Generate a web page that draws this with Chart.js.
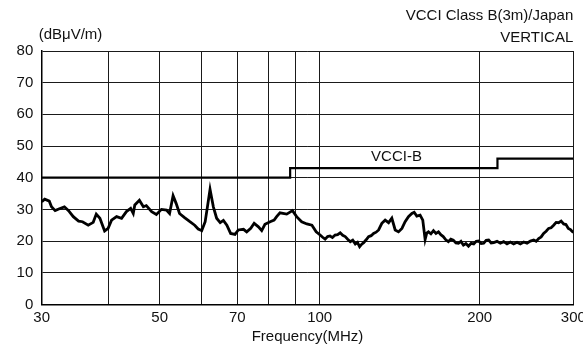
<!DOCTYPE html>
<html>
<head>
<meta charset="utf-8">
<script src="https://cdn.jsdelivr.net/npm/chart.js@4/dist/chart.umd.min.js"></script>
<style>
  html, body { margin: 0; padding: 0; background: #fff; }
</style>
</head>
<body>
<canvas id="emi" width="583" height="347"></canvas>
<script>
// measured field strength, frequency in MHz / level in dBuV/m
const traceFreqs = [
  30.0, 30.1, 30.4, 31.0, 31.3, 31.8, 32.3, 33.1, 33.7, 34.4,
  35.2, 35.8, 36.7, 37.5, 38.0, 38.6, 39.4, 40.0, 40.6, 41.5,
  42.4, 43.3, 44.1, 44.6, 44.9, 45.8, 46.6, 47.2, 48.3, 49.3,
  50.4, 51.5, 52.2, 53.0, 53.7, 54.5, 55.7, 57.0, 58.2, 59.1,
  60.0, 60.9, 61.5, 62.2, 63.1, 64.0, 65.0, 65.9, 66.9, 68.0,
  69.3, 70.3, 71.9, 72.9, 74.2, 75.3, 76.7, 77.8, 78.9, 80.7,
  82.1, 83.0, 84.2, 86.7, 88.9, 90.5, 92.5, 94.6, 96.7, 98.5,
  100.2, 101.3, 102.4, 103.5, 104.6, 105.7, 106.9, 108.1, 109.3, 110.5,
  111.7, 112.9, 114.2, 115.4, 116.7, 117.8, 118.9, 120.0, 121.0, 122.3,
  123.6, 125.0, 126.3, 127.7, 129.1, 130.9, 132.8, 134.8, 136.7, 138.7,
  140.7, 142.8, 144.8, 146.9, 149.1, 150.6, 152.3, 154.5, 156.3,
  157.9, 159.0, 160.2, 161.9, 163.7, 165.5, 167.3, 169.0, 170.8, 172.7,
  174.6, 176.5, 178.4, 180.4, 182.4, 184.4, 186.4, 188.4, 190.5, 192.7,
  194.9, 197.0, 199.1, 201.3, 203.5, 205.7, 207.9, 210.2, 212.5, 215.6,
  218.7, 221.9, 225.1, 228.4, 231.7, 235.1, 238.5, 242.0, 245.5, 249.1,
  252.7, 255.4, 258.2, 261.0, 263.8, 266.7, 269.6, 272.5, 275.5, 278.5,
  281.5, 284.6, 287.7, 290.6, 293.6, 296.4, 299.2, 300.0
];
const traceLevels = [
  32.4, 32.6, 33.2, 32.6, 30.8, 29.6, 30.1, 30.8, 29.6, 27.7,
  26.3, 26.1, 25.0, 25.9, 28.5, 27.2, 23.2, 24.0, 26.6, 27.7,
  27.2, 29.3, 30.3, 28.7, 31.4, 32.9, 30.8, 31.2, 29.3, 28.4,
  30.0, 29.8, 28.7, 34.3, 31.9, 28.7, 27.4, 26.1, 25.0, 23.8,
  23.3, 26.1, 30.8, 36.3, 30.8, 27.2, 25.8, 26.5, 25.0, 22.4,
  22.1, 23.5, 23.7, 22.9, 24.0, 25.6, 24.5, 23.3, 25.3, 26.1,
  26.6, 27.7, 28.9, 28.5, 29.6, 27.7, 26.1, 25.4, 25.0, 22.9,
  21.9, 21.2, 20.6, 21.4, 21.6, 21.1, 21.9, 22.0, 22.6, 21.8,
  21.4, 20.6, 19.8, 20.3, 19.1, 19.6, 18.2, 19.0, 19.5, 20.4,
  21.4, 21.7, 22.4, 22.8, 23.5, 25.6, 26.6, 25.8, 27.2, 23.5,
  22.9, 24.0, 26.1, 27.7, 28.7, 29.1, 27.9, 28.2, 26.6,
  20.5, 22.5, 22.9, 22.3, 23.3, 22.4, 22.9, 22.0, 21.4, 20.4,
  19.8, 20.6, 20.3, 19.4, 19.3, 19.9, 18.7, 19.2, 18.4, 19.3,
  19.1, 19.9, 20.0, 19.2, 19.3, 20.2, 20.3, 19.4, 19.5, 19.9,
  19.3, 19.8, 19.1, 19.7, 19.1, 19.6, 19.1, 19.7, 19.3, 20.0,
  20.3, 19.9, 20.8, 21.3, 22.4, 23.1, 24.0, 24.2, 25.0, 25.9,
  25.8, 26.3, 25.4, 25.2, 24.0, 23.6, 22.9, 22.8
];

// VCCI class B limit, steps at 88 and 216 MHz
const limitFreqs = [30, 88, 88, 216, 216, 300];
const limitLevels = [40, 40, 43, 43, 46, 46];

const gridFreqs = [30, 40, 50, 60, 70, 80, 90, 100, 200, 300];
const labelFreqs = [30, 50, 70, 100, 200, 300];

const FONT = '"Liberation Sans", Arial, Helvetica, sans-serif';
Chart.defaults.font.family = FONT;
Chart.defaults.font.size = 15;
Chart.defaults.color = '#111';

const toPoints = (xs, ys) => xs.map((x, i) => ({ x: x, y: ys[i] }));

const captions = {
  id: 'captions',
  afterDraw(chart) {
    const { ctx, chartArea, scales } = chart;
    ctx.save();
    ctx.font = '15px ' + FONT;
    ctx.fillStyle = '#111';
    ctx.textBaseline = 'middle';
    ctx.textAlign = 'right';
    ctx.fillText('VCCI Class B(3m)/Japan', chartArea.right, 16);
    ctx.fillText('VERTICAL', chartArea.right, 38);
    ctx.textAlign = 'left';
    ctx.fillText('(dB\u03bcV/m)', chartArea.left - 3, 35);
    ctx.textAlign = 'center';
    ctx.fillText('VCCI-B', scales.x.getPixelForValue(139.5), scales.y.getPixelForValue(46.5));
    ctx.restore();
  }
};

new Chart(document.getElementById('emi'), {
  type: 'scatter',
  data: {
    datasets: [
      {
        label: 'VCCI-B',
        data: toPoints(limitFreqs, limitLevels),
        showLine: true,
        borderColor: '#000',
        borderWidth: 2.2,
        pointRadius: 0,
        tension: 0
      },
      {
        label: 'Vertical',
        data: toPoints(traceFreqs, traceLevels),
        showLine: true,
        borderColor: '#000',
        borderWidth: 2.8,
        pointRadius: 0,
        tension: 0
      }
    ]
  },
  options: {
    responsive: false,
    animation: false,
    devicePixelRatio: 1,
    layout: { padding: { top: 51, right: 9.7, left: 0, bottom: 0 } },
    plugins: {
      legend: { display: false },
      tooltip: { enabled: false }
    },
    scales: {
      x: {
        type: 'logarithmic',
        min: 30,
        max: 300,
        afterBuildTicks: s => { s.ticks = gridFreqs.map(v => ({ value: v })); },
        afterFit: s => { s.height = 42.6; s.paddingLeft = 0; s.paddingRight = 0; },
        ticks: {
          autoSkip: false,
          maxRotation: 0,
          padding: 4,
          color: '#111',
          callback: v => labelFreqs.includes(v) ? String(v) : ''
        },
        grid: { color: '#1a1a1a', lineWidth: 1, drawTicks: false },
        border: { color: '#000', width: 1.5 },
        title: {
          display: true,
          text: 'Frequency(MHz)',
          color: '#111',
          padding: { top: 0, bottom: 1 }
        }
      },
      y: {
        min: 0,
        max: 80,
        afterFit: s => { s.width = 41.7; },
        ticks: { stepSize: 10, padding: 8.4, color: '#111' },
        grid: { color: '#1a1a1a', lineWidth: 1, drawTicks: false },
        border: { color: '#000', width: 1.5 }
      }
    }
  },
  plugins: [captions]
});
</script>
</body>
</html>
